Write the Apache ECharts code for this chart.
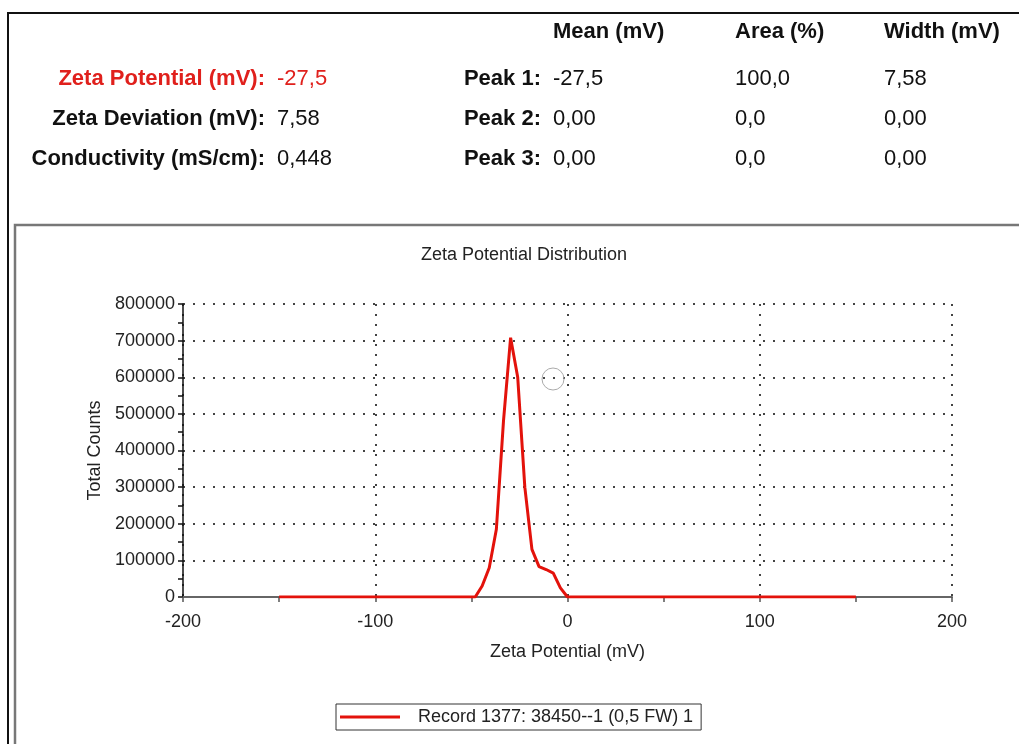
<!DOCTYPE html>
<html>
<head>
<meta charset="utf-8">
<script src="https://cdn.jsdelivr.net/npm/echarts@6/dist/echarts.min.js"></script>
<style>
html,body{margin:0;padding:0;background:#fff;}
#chart{width:1019px;height:744px;}
</style>
</head>
<body>
<div id="chart"></div>
<script>
// ---- data ----
const xValues = [-150, -50, -48, -44.4, -40.7, -37, -33.3, -29.6, -25.9, -22.2, -18.5, -14.8, -11.1, -7.4, -3.7, 0, 150];
const counts  = [0, 0, 0, 30000, 80000, 185000, 480000, 708000, 600000, 300000, 130000, 83000, 75000, 65000, 25000, 0, 0];
const seriesName = 'Record 1377: 38450--1 (0,5 FW) 1';

const summaryLabels = ['Zeta Potential (mV):', 'Zeta Deviation (mV):', 'Conductivity (mS/cm):'];
const summaryValues = ['-27,5', '7,58', '0,448'];
const peakHeaders = ['Mean (mV)', 'Area (%)', 'Width (mV)'];
const peakLabels = ['Peak 1:', 'Peak 2:', 'Peak 3:'];
const peakMeans = ['-27,5', '0,00', '0,00'];
const peakAreas = ['100,0', '0,0', '0,0'];
const peakWidths = ['7,58', '0,00', '0,00'];

// ---- build ----
const FONT = "'Liberation Sans', Arial, sans-serif";
const rowY = [79, 119, 159];
const headerY = 32;
const colX = [553, 735, 884];
const graphics = [];

// frames
graphics.push({type:'rect', shape:{x:8, y:13, width:1040, height:760}, style:{fill:null, stroke:'#111', lineWidth:2}, silent:true, z:0});
graphics.push({type:'rect', shape:{x:15, y:225, width:1040, height:560}, style:{fill:null, stroke:'#777', lineWidth:2.5}, silent:true, z:0});
// cursor circle
graphics.push({type:'circle', shape:{cx:553, cy:379, r:11}, style:{fill:null, stroke:'#aaa', lineWidth:1}, silent:true, z:10});

function txt(x, y, text, align, bold, color){
  graphics.push({type:'text', x:x, y:y, silent:true, style:{text:text, fill:color||'#111', font:(bold?'bold 22px ':'22px ')+FONT, textAlign:align, textVerticalAlign:'middle'}});
}
peakHeaders.forEach((h,i)=>txt(colX[i], headerY, h, 'left', true));
summaryLabels.forEach((l,i)=>{
  const c = i===0 ? '#e0201c' : '#111';
  txt(265, rowY[i], l, 'right', true, c);
  txt(277, rowY[i], summaryValues[i], 'left', false, c);
});
peakLabels.forEach((l,i)=>{
  txt(541, rowY[i], l, 'right', true);
  txt(colX[0], rowY[i], peakMeans[i], 'left', false);
  txt(colX[1], rowY[i], peakAreas[i], 'left', false);
  txt(colX[2], rowY[i], peakWidths[i], 'left', false);
});

const dotted = {color:'#444', width:2, type:[2,8]};
const chart = echarts.init(document.getElementById('chart'));
chart.setOption({
  animation:false,
  textStyle:{fontFamily:FONT},
  title:{text:'Zeta Potential Distribution', left:416, top:241, textStyle:{fontSize:18, fontWeight:'normal', color:'#222', fontFamily:FONT}},
  grid:{left:183, right:67, top:304, bottom:147, containLabel:false},
  legend:{
    data:[{name:seriesName, icon:'rect'}],
    left:336, top:704, itemWidth:60, itemHeight:3, itemGap:10,
    borderColor:'#333', borderWidth:1, borderRadius:0, padding:[4,8,4,4],
    textStyle:{fontSize:18, color:'#222', fontFamily:FONT, padding:[0,0,0,13]}
  },
  xAxis:{
    type:'value', min:-200, max:200, interval:100,
    name:'Zeta Potential (mV)', nameLocation:'middle', nameGap:46,
    nameTextStyle:{fontSize:18, color:'#222'},
    axisLine:{show:true, onZero:false, lineStyle:{color:'#666', width:2}},
    axisTick:{show:true, length:5, lineStyle:{color:'#555', width:1.5}},
    minorTick:{show:true, splitNumber:2, length:5, lineStyle:{color:'#555', width:1.5}},
    axisLabel:{fontSize:18, color:'#222', margin:16},
    splitLine:{show:true, lineStyle:dotted}
  },
  yAxis:{
    type:'value', min:0, max:800000, interval:100000,
    name:'Total Counts', nameLocation:'middle', nameGap:78, nameRotate:90,
    nameTextStyle:{fontSize:18, color:'#222'},
    axisLine:{show:true, onZero:false, lineStyle:{color:'#111', width:1.5}},
    axisTick:{show:true, length:5, lineStyle:{color:'#111', width:1.5}},
    minorTick:{show:true, splitNumber:2, length:5, lineStyle:{color:'#111', width:1.5}},
    axisLabel:{fontSize:18, color:'#222', margin:8, formatter:function(v){return String(v);}},
    splitLine:{show:true, lineStyle:dotted}
  },
  series:[{
    name:seriesName, type:'line', showSymbol:false, smooth:false,
    data:xValues.map((x,i)=>[x, counts[i]]),
    lineStyle:{color:'#e3120b', width:3},
    itemStyle:{color:'#e3120b'},
    z:5
  }],
  graphic:graphics
});
</script>
</body>
</html>
